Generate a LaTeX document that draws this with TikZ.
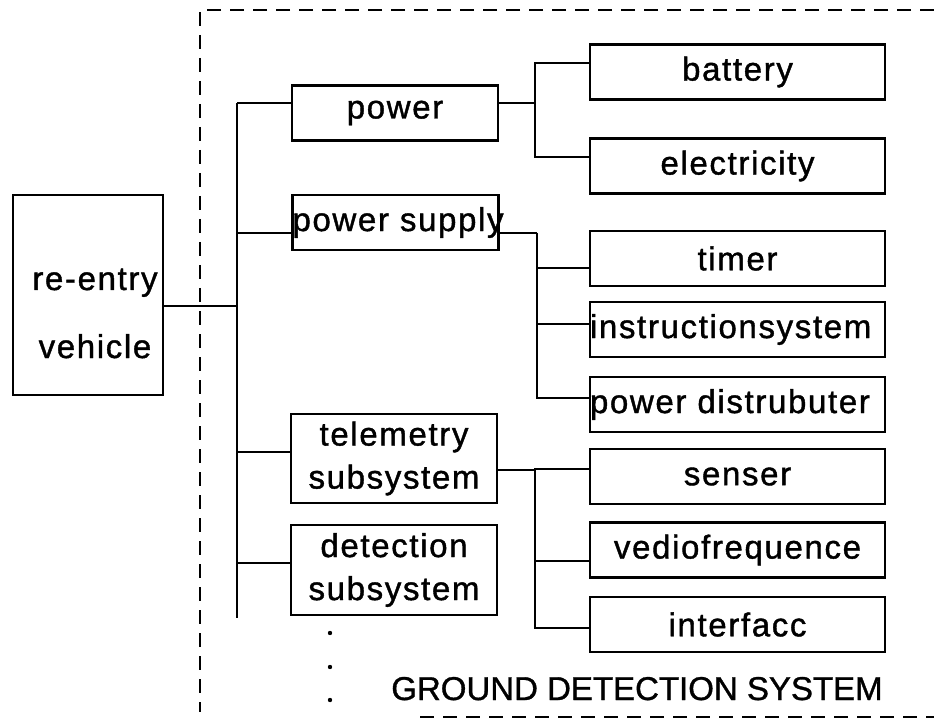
\documentclass[tikz,border=0pt]{standalone}
\usepackage{fontspec}
\setmainfont{Liberation Sans}[FakeBold=1]
\newfontfamily\lblfont{Liberation Sans}[LetterSpace=5, FakeBold=1.2]

\begin{document}
\begin{tikzpicture}[x=1pt, y=-1pt, line width=2.6pt,
  every node/.style={font=\lblfont\fontsize{33}{43}\selectfont, inner sep=0pt},
  box/.style={draw, align=center, minimum height=55pt},
  sub/.style={box, text width=206pt},
  leaf/.style={box, text width=295pt},
  frame/.style={line width=1.3pt, dash pattern=on 14pt off 9pt}]
  \useasboundingbox (0,0) rectangle (934,727);

  % ground system frame
  \draw[frame] (934,10) -- (200,10) -- (200,712);
  \draw[frame] (420,717) -- (934,717);

  \node[box, minimum width=150pt, minimum height=200pt] (veh) at (88,295) {};
  \node[anchor=base] (vehA) at (95,290) {re-entry};
  \node[anchor=base] (vehB) at (95,358) {vehicle};

  \node[sub] (power) at (395,113) {power};
  \node[sub, align=left] (psupply) at (395.5,222.5) {\mbox{power supply}};
  \node[sub, minimum height=89pt] (telem) at (394,458.5) {telemetry\\subsystem};
  \node[sub, minimum height=90pt] (detect) at (394,570) {detection\\subsystem};

  \node[leaf] (battery) at (737.5,72) {battery};
  \node[leaf] (elec) at (737.5,166) {electricity};
  \node[leaf] (timer) at (737.5,258.5) {timer};
  \node[leaf, align=left] (instr) at (737.5,329.5) {instructionsystem};
  \node[leaf, align=left] (distrib) at (737.5,404.5) {power distrubuter};
  \node[leaf] (senser) at (737.5,476.5) {senser};
  \node[leaf] (vedio) at (737.5,550) {vediofrequence};
  \node[leaf] (iface) at (737.5,624.5) {interfacc};

  % main spine
  \coordinate (top) at (237,103);
  \coordinate (bot) at (237,618);
  \draw (top) -- (bot);
  \draw ([yshift=-11pt]veh.east) -- (top |- 0,306);
  \foreach \n/\s in {power/10, psupply/-10.5, telem/6.5, detect/7}
    \draw (top) |- ([yshift=\s pt]\n.west);

  % branches
  \coordinate (bus1) at (535,103);
  \coordinate (bus2) at (537,233);
  \coordinate (bus3) at (535,470);
  \draw ([yshift=10pt]power.east) -- (bus1);
  \draw ([yshift=-10.5pt]psupply.east) -- (bus2);
  \draw ([yshift=-11.5pt]telem.east) -- (bus3);
  \foreach \n/\s in {battery/9, elec/9}
    \draw (bus1) |- ([yshift=\s pt]\n.west);
  \foreach \n/\s in {timer/-9.5, instr/5.5, distrib/6.5}
    \draw (bus2) |- ([yshift=\s pt]\n.west);
  \foreach \n/\s in {senser/7.5, vedio/-11, iface/-3.5}
    \draw (bus3) |- ([yshift=\s pt]\n.west);

  \fill (330,633) circle (2.2pt);
  \fill (330,667) circle (2.2pt);
  \fill (330,700) circle (2.2pt);
  \node[font=\fontsize{33}{40}\selectfont, anchor=base west] (gds) at (390,700) {GROUND DETECTION SYSTEM};
\end{tikzpicture}
\end{document}
